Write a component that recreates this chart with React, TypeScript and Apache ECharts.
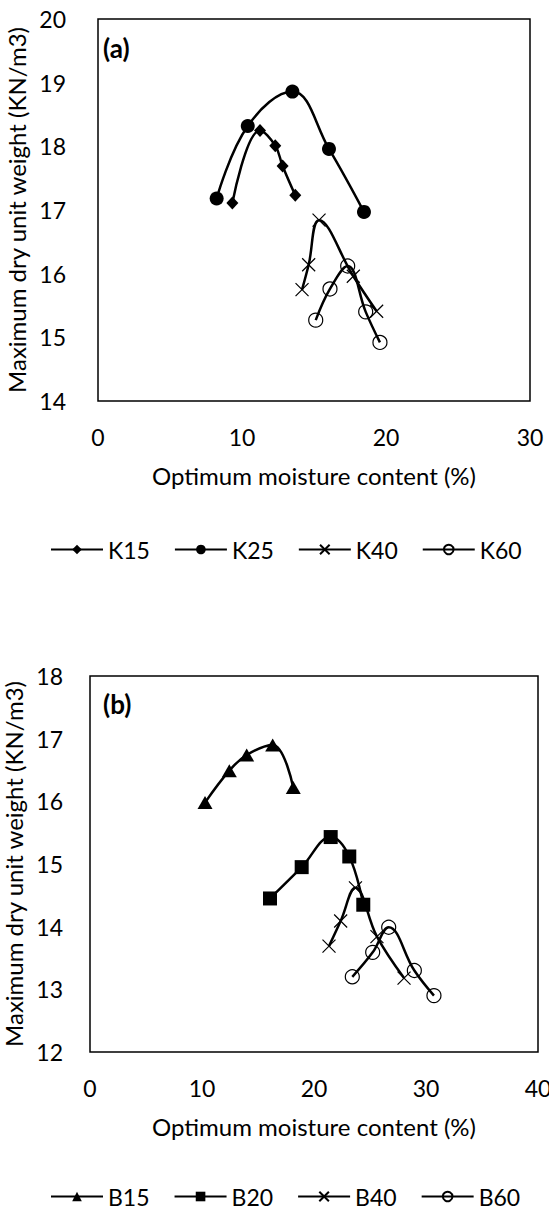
import React, { useEffect, useRef } from "react";
import * as echarts from "echarts";

// Panel (a): K-series compaction curves
const k15X = [9.33, 11.25, 12.31, 12.82, 13.7];
const k15Y = [17.11, 18.25, 18.01, 17.69, 17.23];
const k25X = [8.24, 10.4, 13.5, 16.04, 18.47];
const k25Y = [17.18, 18.32, 18.86, 17.96, 16.97];
const k40X = [14.17, 14.63, 15.35, 17.73, 19.35];
const k40Y = [15.75, 16.14, 16.84, 15.96, 15.41];
const k60X = [15.12, 16.11, 17.34, 18.59, 19.58];
const k60Y = [15.27, 15.76, 16.12, 15.4, 14.92];

// Panel (b): B-series compaction curves
const b15X = [10.27, 12.44, 13.99, 16.31, 18.15];
const b15Y = [15.98, 16.49, 16.74, 16.9, 16.22];
const b20X = [16.07, 18.9, 21.49, 23.15, 24.4];
const b20Y = [14.45, 14.95, 15.43, 15.12, 14.35];
const b40X = [21.34, 22.38, 23.7, 25.62, 28.04];
const b40Y = [13.69, 14.09, 14.62, 13.84, 13.18];
const b60X = [23.42, 25.24, 26.67, 28.96, 30.71];
const b60Y = [13.2, 13.59, 13.99, 13.3, 12.9];

const xTitle = "Optimum moisture content (%)";
const yTitle = "Maximum dry unit weight (KN/m3)";

const FONT = "Lato";
const CROSS = "path://M0,0L10,10M10,0L0,10";

const pairs = (xs: number[], ys: number[]) => xs.map((x, i) => [x, ys[i]]);

type MarkerKind = "diamond" | "dot" | "cross" | "ring" | "triangle" | "square";

function markerStyle(kind: MarkerKind) {
  switch (kind) {
    case "diamond":
      return { symbol: "diamond", symbolSize: [12, 13], itemStyle: { color: "#000" } };
    case "dot":
      return { symbol: "circle", symbolSize: 14, itemStyle: { color: "#000" } };
    case "triangle":
      return { symbol: "triangle", symbolSize: [15, 13], itemStyle: { color: "#000" } };
    case "square":
      return { symbol: "rect", symbolSize: 14, itemStyle: { color: "#000" } };
    case "cross":
      return {
        symbol: CROSS,
        symbolSize: 13,
        itemStyle: { color: "rgba(0,0,0,0)", borderColor: "#000", borderWidth: 1.2 },
      };
    case "ring":
    default:
      return {
        symbol: "circle",
        symbolSize: 14,
        itemStyle: { color: "rgba(0,0,0,0)", borderColor: "#000", borderWidth: 1.2 },
      };
  }
}

function curve(name: string, xs: number[], ys: number[], kind: MarkerKind, gridIdx: number) {
  return {
    name,
    type: "line",
    xAxisIndex: gridIdx,
    yAxisIndex: gridIdx,
    data: pairs(xs, ys),
    smooth: 0.4,
    lineStyle: { color: "#000", width: 2.5 },
    ...markerStyle(kind),
    z: 3,
  };
}

const tickText = { color: "#000", fontFamily: FONT, fontSize: 23 };
const titleText = { color: "#000", fontFamily: FONT, fontSize: 24 };

function xAxis(gridIndex: number, max: number) {
  return {
    type: "value",
    gridIndex,
    min: 0,
    max,
    interval: 10,
    name: xTitle,
    nameLocation: "middle",
    nameGap: 62,
    nameTextStyle: { ...titleText },
    axisLine: { show: false },
    axisTick: { show: false },
    splitLine: { show: false },
    axisLabel: { ...tickText, margin: 24 },
  };
}

function yAxis(gridIndex: number, min: number, max: number, labelMargin: number, nameGap: number) {
  return {
    type: "value",
    gridIndex,
    min,
    max,
    interval: 1,
    name: yTitle,
    nameLocation: "middle",
    nameGap,
    nameTextStyle: { ...titleText },
    axisLine: { show: false },
    axisTick: { show: false },
    splitLine: { show: false },
    axisLabel: { ...tickText, margin: labelMargin },
  };
}

function legend(names: string[], top: number) {
  return {
    data: names,
    left: 45,
    top,
    itemWidth: 52,
    itemHeight: 12,
    itemGap: 24,
    textStyle: { color: "#000", fontFamily: FONT, fontSize: 23 },
  };
}

function plotArea(left: number, top: number, width: number, height: number) {
  return {
    left,
    top,
    width,
    height,
    outerBoundsMode: "none",
    containLabel: false,
    show: true,
    borderColor: "#000",
    borderWidth: 1.5,
  };
}

export default function App() {
  const ref = useRef<HTMLDivElement>(null);

  useEffect(() => {
    if (!ref.current) return;
    const chart = echarts.init(ref.current, undefined, { renderer: "svg" });
    chart.setOption({
      animation: false,
      backgroundColor: "#fff",
      grid: [plotArea(98, 19, 432, 382), plotArea(90, 676, 448, 376)],
      xAxis: [xAxis(0, 30), xAxis(1, 40)],
      yAxis: [yAxis(0, 14, 20, 32, 49), yAxis(1, 12, 18, 27, 52)],
      legend: [legend(["K15", "K25", "K40", "K60"], 533), legend(["B15", "B20", "B40", "B60"], 1180)],
      graphic: [
        {
          type: "text",
          left: 103,
          top: 35,
          style: { text: "(a)", fill: "#000", font: `bold 26px ${FONT}` },
        },
        {
          type: "text",
          left: 103,
          top: 691,
          style: { text: "(b)", fill: "#000", font: `bold 26px ${FONT}` },
        },
      ],
      series: [
        curve("K15", k15X, k15Y, "diamond", 0),
        curve("K25", k25X, k25Y, "dot", 0),
        curve("K40", k40X, k40Y, "cross", 0),
        curve("K60", k60X, k60Y, "ring", 0),
        curve("B15", b15X, b15Y, "triangle", 1),
        curve("B20", b20X, b20Y, "square", 1),
        curve("B40", b40X, b40Y, "cross", 1),
        curve("B60", b60X, b60Y, "ring", 1),
      ],
    });
    return () => chart.dispose();
  }, []);

  return (
    <div
      ref={ref}
      style={{ position: "absolute", left: 0, top: 0, width: 549, height: 1211, background: "#fff" }}
    />
  );
}
